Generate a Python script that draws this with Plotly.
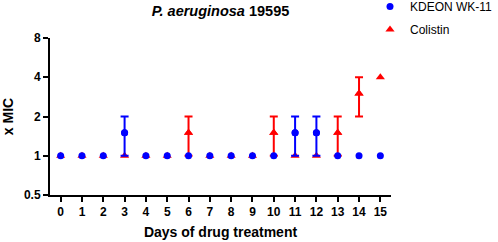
import plotly.graph_objects as go
import math

days = list(range(16))
kdeon = [1, 1, 1, 1.5, 1, 1, 1, 1, 1, 1, 1, 1.5, 1.5, 1, 1, 1]
kdeon_err = [0, 0, 0, 0.5, 0, 0, 0, 0, 0, 0, 0, 0.5, 0.5, 0, 0, 0]
colistin = [1, 1, 1, 1, 1, 1, 1.5, 1, 1, 1, 1.5, 1, 1, 1.5, 3, 4]
colistin_err = [0, 0, 0, 0, 0, 0, 0.5, 0, 0, 0, 0.5, 0, 0, 0.5, 1, 0]
y_ticks = [0.5, 1, 2, 4, 8]
y_ticktext = ["0.5", "1", "2", "4", "8"]
x_ticks = days

FONT = "Liberation Sans, Arial, sans-serif"
BLUE = "#0000FF"
RED = "#FF0000"


def subset(xs, ys, es):
    idx = [i for i, e in enumerate(es) if e > 0]
    return [xs[i] for i in idx], [ys[i] for i in idx], [es[i] for i in idx]


fig = go.Figure()
series = [
    ("Colistin", colistin, colistin_err, RED, "triangle-up", 8, 2),
    ("KDEON WK-11", kdeon, kdeon_err, BLUE, "circle", 7, 1),
]
for name, ys, es, col, sym, sz, rank in series:
    fig.add_trace(go.Scatter(
        x=days, y=ys, mode="markers", name=name, legendgroup=name, legendrank=rank,
        marker=dict(symbol=sym, size=sz, color=col),
    ))
    ex, ey, ee = subset(days, ys, es)
    fig.add_trace(go.Scatter(
        x=ex, y=ey, mode="markers", name=name, legendgroup=name, showlegend=False,
        marker=dict(symbol=sym, size=sz, color=col),
        error_y=dict(type="data", array=ee, arrayminus=ee, symmetric=False,
                     color=col, thickness=2, width=4),
    ))

fig.update_layout(
    width=498, height=242,
    margin=dict(l=50, r=107, t=38, b=47, autoexpand=False),
    paper_bgcolor="white", plot_bgcolor="white",
    font=dict(family=FONT, color="black", size=12),
    title=dict(text="<b><i>P. aeruginosa</i> 19595</b>", x=0.5, xref="paper",
               xanchor="center", y=1 - 11 / 242, yref="container", yanchor="middle",
               font=dict(size=14.5, family=FONT, color="black")),
    showlegend=True,
    legend=dict(x=1.0, xanchor="right", xref="container", y=1.293, yanchor="top",
                yref="paper",
                traceorder="grouped", tracegroupgap=4,
                font=dict(size=12, family=FONT), bgcolor="rgba(0,0,0,0)"),
    xaxis=dict(range=[-0.5, 15.5], tickvals=x_ticks, ticks="outside", ticklen=5,
               tickwidth=2, tickcolor="black", showline=True, linewidth=2,
               linecolor="black", showgrid=False, zeroline=False, automargin=False,
               ticktext=["<b>%d</b>" % d for d in x_ticks],
               tickfont=dict(size=12, color="black"),
               title=dict(text="<b>Days of drug treatment</b>", font=dict(size=14), standoff=9)),
    yaxis=dict(type="log", range=[math.log10(0.5), math.log10(8)], tickvals=y_ticks,
               ticktext=["<b>%s</b>" % t for t in y_ticktext],
               ticks="outside", ticklen=5, tickwidth=2, tickcolor="black",
               showline=True, linewidth=2, linecolor="black", showgrid=False,
               zeroline=False, tickfont=dict(size=12), automargin=False,
               title=dict(text="<b>x MIC</b>", font=dict(size=14), standoff=8)),
)

fig.write_html("out.html", config={"displayModeBar": False},
               post_script="document.body.style.margin='0';")
